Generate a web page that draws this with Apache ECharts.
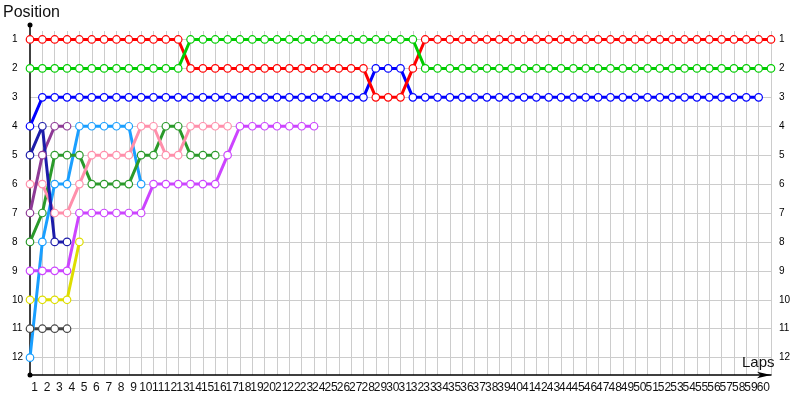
<!DOCTYPE html>
<html>
<head>
<meta charset="utf-8">
<script src="https://cdn.jsdelivr.net/npm/echarts@6/dist/echarts.min.js"></script>
<style>html,body{margin:0;padding:0;background:#fff}#c{width:800px;height:400px}</style>
</head>
<body>
<div id="c"></div>
<script>
// Positions per lap, starting at lap 0 (grid)
const lapTicks = [1,2,3,4,5,6,7,8,9,10,11,12,13,14,15,16,17,18,19,20,21,22,23,24,25,26,27,28,29,30,31,32,33,34,35,36,37,38,39,40,41,42,43,44,45,46,47,48,49,50,51,52,53,54,55,56,57,58,59,60];
const positionTicks = [1,2,3,4,5,6,7,8,9,10,11,12];

const red = [1,1,1,1,1,1,1,1,1,1,1,1,1,2,2,2,2,2,2,2,2,2,2,2,2,2,2,2,3,3,3,2,1,1,1,1,1,1,1,1,1,1,1,1,1,1,1,1,1,1,1,1,1,1,1,1,1,1,1,1,1];
const green = [2,2,2,2,2,2,2,2,2,2,2,2,2,1,1,1,1,1,1,1,1,1,1,1,1,1,1,1,1,1,1,1,2,2,2,2,2,2,2,2,2,2,2,2,2,2,2,2,2,2,2,2,2,2,2,2,2,2,2,2,2];
const blue = [4,3,3,3,3,3,3,3,3,3,3,3,3,3,3,3,3,3,3,3,3,3,3,3,3,3,3,3,2,2,2,3,3,3,3,3,3,3,3,3,3,3,3,3,3,3,3,3,3,3,3,3,3,3,3,3,3,3,3,3];
const navy = [5,4,8,8];
const purple = [7,5,4,4];
const pink = [6,6,7,7,6,5,5,5,5,4,4,5,5,4,4,4,4];
const darkGreen = [8,7,5,5,5,6,6,6,6,5,5,4,4,5,5,5];
const lightBlue = [12,8,6,6,4,4,4,4,4,6];
const violet = [9,9,9,9,7,7,7,7,7,7,6,6,6,6,6,6,5,4,4,4,4,4,4,4];
const yellow = [10,10,10,10,8];
const gray = [11,11,11,11];

const drivers = [
  {name:'Gray', data: gray, color:'#444444'},
  {name:'Yellow', data: yellow, color:'#dede00'},
  {name:'Violet', data: violet, color:'#cc44ff'},
  {name:'LightBlue', data: lightBlue, color:'#1a9fff'},
  {name:'DarkGreen', data: darkGreen, color:'#2a9a2a'},
  {name:'Pink', data: pink, color:'#ff8fab'},
  {name:'Purple', data: purple, color:'#8e3a96'},
  {name:'Navy', data: navy, color:'#1c1caa'},
  {name:'Blue', data: blue, color:'#0000ff'},
  {name:'Red', data: red, color:'#ff0000'},
  {name:'Green', data: green, color:'#00cc00'}
];

const chart = echarts.init(document.getElementById('c'), null, {renderer:'canvas'});
const axisFont = 'Liberation Sans';

chart.setOption({
  animation: false,
  backgroundColor: '#fff',
  title: [
    {text:'Position', left: 3, top: 5, padding: 0, textStyle:{fontSize:16, fontWeight:'normal', fontFamily: axisFont, color:'#111'}},
    {text:'Laps', left: 742, top: 355, padding: 0, textStyle:{fontSize:15, fontWeight:'normal', fontFamily: axisFont, color:'#111'}}
  ],
  grid: [
    {left: 30, right: 29, top: 31, bottom: 25},
    {left: 30, right: 29, top: 25, bottom: 25},
    {left: 28.5, right: 30.5, top: 31, bottom: 25}
  ],
  xAxis: [
    {
      type:'value', gridIndex:0, min:0, max:60,
      axisLine:{show:true, onZero:false, lineStyle:{color:'#000', width:1.5}, symbol:['circle','arrow'], symbolSize:[5,14]},
      axisTick:{show:false, customValues: lapTicks},
      splitLine:{show:true, lineStyle:{color:'#cccccc', width:1}},
      axisLabel:{show:false}
    },
    {type:'value', gridIndex:1, min:0, max:1, show:false},
    {
      type:'category', gridIndex:2, data: lapTicks.map(String), boundaryGap:true,
      axisLine:{show:false}, axisTick:{show:false}, splitLine:{show:false},
      axisLabel:{interval:0, margin:7, fontSize:12, fontFamily: axisFont, color:'#111'}
    }
  ],
  yAxis: [
    {
      type:'value', gridIndex:0, inverse:true, min:0.707, max:12.6,
      axisLine:{show:false},
      axisTick:{show:false, customValues: positionTicks},
      splitLine:{show:true, lineStyle:{color:'#cccccc', width:1}},
      axisLabel:{customValues: positionTicks, align:'left', margin:18, fontSize:10, fontFamily: axisFont, color:'#000'}
    },
    {
      type:'value', gridIndex:0, inverse:true, min:0.707, max:12.6, position:'right',
      axisLine:{show:false},
      axisTick:{show:false, customValues: positionTicks},
      splitLine:{show:false},
      axisLabel:{customValues: positionTicks, align:'left', margin:8, fontSize:10, fontFamily: axisFont, color:'#000'}
    },
    {
      type:'value', gridIndex:1, min:0, max:1,
      axisLine:{show:true, onZero:false, lineStyle:{color:'#000', width:1.5}, symbol:['none','circle'], symbolSize:[5,5]},
      axisTick:{show:false}, axisLabel:{show:false}, splitLine:{show:false}
    },
    {type:'value', gridIndex:2, min:0, max:1, show:false}
  ],
  series: drivers.map(d => ({
    name: d.name,
    type: 'line',
    xAxisIndex: 0,
    yAxisIndex: 0,
    data: d.data.map((p, lap) => [lap, p]),
    symbol: 'circle',
    symbolSize: 7.5,
    showAllSymbol: true,
    lineStyle: {color: d.color, width: 3},
    itemStyle: {color: '#fff', borderColor: d.color, borderWidth: 1.2},
    emphasis: {disabled: true}
  }))
});
</script>
</body>
</html>
